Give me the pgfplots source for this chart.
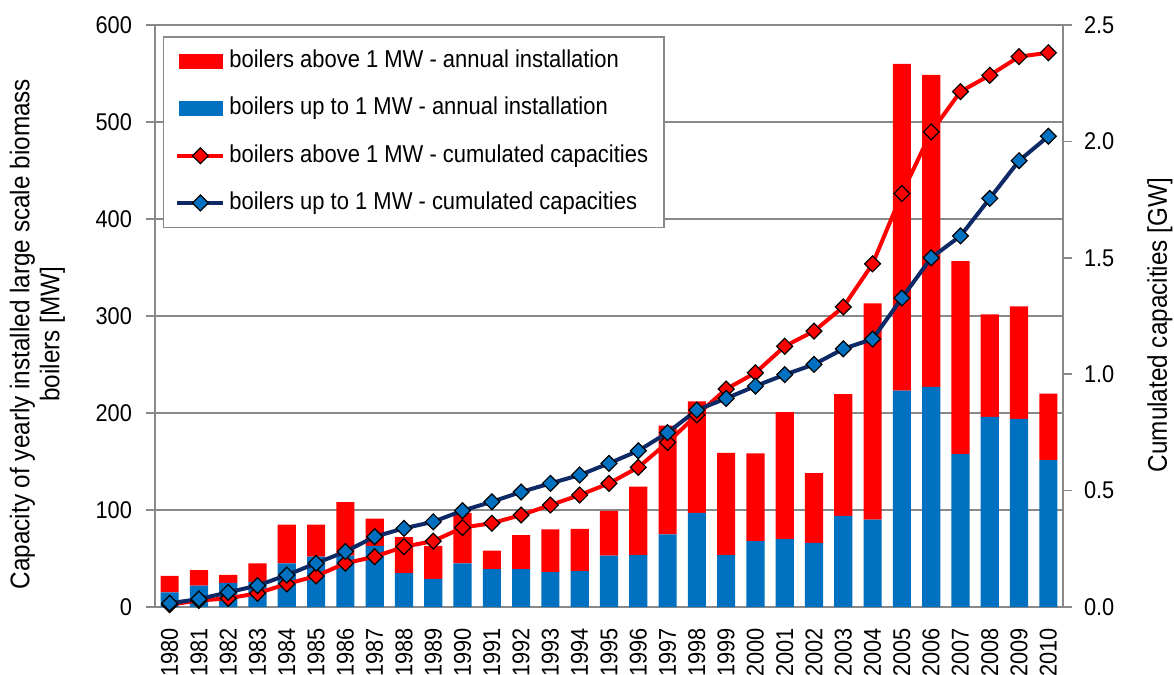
\documentclass[border=0pt]{standalone}
\usepackage{pgfplots}
\pgfplotsset{compat=1.18}
\usepackage{pgfplotstable}
\usepackage{fontspec}
\setmainfont{Liberation Sans}[FakeStretch=0.9]
\definecolor{barred}{HTML}{FF0000}
\definecolor{barblue}{HTML}{0070C0}
\definecolor{navyline}{HTML}{0E2A66}
\definecolor{axgray}{HTML}{898989}

\pgfplotstableread{
year blue red cumblue cumred
1980 15 17 0.016 0.010
1981 22 16 0.034 0.028
1982 25 8 0.063 0.037
1983 26 19 0.092 0.059
1984 45 40 0.137 0.099
1985 52 33 0.188 0.133
1986 53 55 0.238 0.188
1987 63 28 0.302 0.216
1988 35 37 0.338 0.259
1989 29 34 0.366 0.283
1990 45 52 0.414 0.341
1991 39 19 0.452 0.360
1992 39 35 0.494 0.395
1993 36 44 0.531 0.438
1994 37 43.5 0.567 0.481
1995 53 46 0.617 0.531
1996 53.5 70.5 0.671 0.600
1997 75 112 0.749 0.707
1998 97 115 0.846 0.825
1999 53.5 105.5 0.896 0.936
2000 68 90.5 0.949 1.006
2001 70 131 0.998 1.120
2002 66 72 1.042 1.185
2003 94 125.5 1.109 1.289
2004 90 223 1.151 1.474
2005 223 337 1.327 1.776
2006 227 321.5 1.500 2.041
2007 157.5 199 1.594 2.214
2008 196 105.7 1.755 2.284
2009 194 116 1.917 2.364
2010 151.5 68.5 2.022 2.381
}\data

\begin{document}
\begin{tikzpicture}
\useasboundingbox (-77.5pt,-34pt) rectangle (509.5pt,303.5pt);
\begin{axis}[
  scale only axis, width=454pt, height=291pt,
  xmin=1979.5, xmax=2010.5, ymin=0, ymax=600,
  ybar stacked, bar width=0.62,
  axis x line*=bottom, axis y line*=left,
  axis line style={draw=axgray, line width=0.75pt},
  xtick={1980,...,2010},
  x tick label style={rotate=90, anchor=east, xshift=-2.5pt, /pgf/number format/1000 sep={}},
  major x tick style={draw=none},
  ytick={0,100,...,600},
  y tick label style={xshift=-3.5pt},
  ymajorgrids, major grid style={draw=axgray, line width=0.75pt},
  tick align=outside, major tick length=4.5pt,
  major tick style={draw=axgray, line width=0.75pt},
  /pgf/number format/assume math mode=true,
  tick label style={font=\fontsize{12.1}{14.5}\selectfont},
  label style={font=\fontsize{13.5}{15}\selectfont},
  ylabel={Capacity of yearly installed large scale biomass\\boilers [MW]},
  ylabel style={align=center, at={(axis description cs:-0.1294,0.469)}, anchor=center},
]
\addplot[fill=barblue, draw=none] table[x=year, y=blue] {\data};
\addplot[fill=barred, draw=none] table[x=year, y=red] {\data};
\end{axis}
\begin{axis}[
  scale only axis, width=454pt, height=291pt,
  xmin=1979.5, xmax=2010.5, ymin=0, ymax=2.5,
  axis x line=none, axis y line*=right,
  axis line style={draw=axgray, line width=0.75pt},
  ytick={0,0.5,1,1.5,2,2.5},
  yticklabel style={xshift=2.5pt, /pgf/number format/.cd, fixed, fixed zerofill, precision=1},
  tick align=outside, major tick length=4.5pt,
  major tick style={draw=axgray, line width=0.75pt},
  /pgf/number format/assume math mode=true,
  tick label style={font=\fontsize{12.1}{14.5}\selectfont},
  label style={font=\fontsize{13.5}{15}\selectfont},
  ylabel={Cumulated capacities [GW]},
  ylabel style={at={(axis description cs:1.1068,0.4845)}, anchor=center},
  legend cell align=left,
  legend image code/.code={\draw[mark repeat=2,mark phase=2,#1] plot coordinates {(0pt,0pt)(11.5pt,0pt)(23pt,0pt)};},
  legend style={at={(rel axis cs:0,1)}, anchor=north west, xshift=3.85pt, yshift=-5.5pt,
    draw=axgray, line width=0.75pt, fill=white, font=\fontsize{12.2}{14.5}\selectfont,
    row sep=8pt, inner xsep=6pt, inner ysep=4.5pt,
    nodes={text height=9pt, text depth=2.6pt, inner ysep=2pt, inner xsep=2pt}},
]
\addlegendimage{legend image code/.code={\fill[barred] (1pt,-3.5pt) rectangle (22.5pt,3.5pt);}}
\addlegendentry{boilers above 1 MW - annual installation}
\addlegendimage{legend image code/.code={\fill[barblue] (1pt,-3.5pt) rectangle (22.5pt,3.5pt);}}
\addlegendentry{boilers up to 1 MW - annual installation}
\addplot[barred, line width=2pt, mark=square*, mark size=2.8pt,
  mark options={rotate=45, fill=barred, draw=black, line width=0.6pt}]
  table[x=year, y=cumred] {\data};
\addlegendentry{boilers above 1 MW - cumulated capacities}
\addplot[navyline, line width=2pt, mark=square*, mark size=2.8pt,
  mark options={rotate=45, fill=barblue, draw=black, line width=0.6pt}]
  table[x=year, y=cumblue] {\data};
\addlegendentry{boilers up to 1 MW - cumulated capacities}
\end{axis}
\end{tikzpicture}
\end{document}
